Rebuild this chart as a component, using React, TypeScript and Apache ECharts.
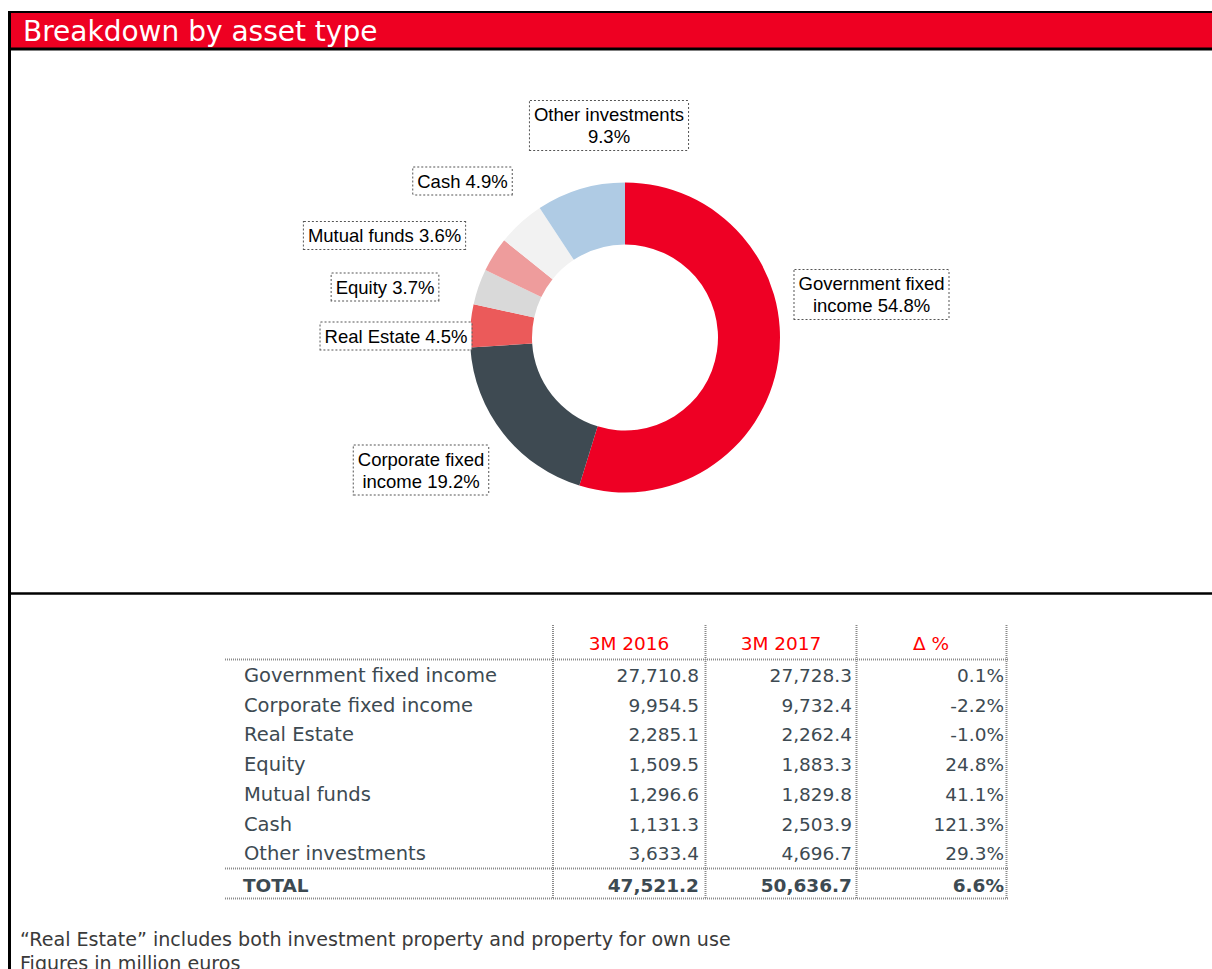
import React, { useEffect, useRef } from 'react';
import * as echarts from 'echarts';

const title = 'Breakdown by asset type';
const categories = ['Government fixed income', 'Corporate fixed income', 'Real Estate', 'Equity', 'Mutual funds', 'Cash', 'Other investments'];
const pieLabelPrefixes = ['Government fixed\nincome ', 'Corporate fixed\nincome ', 'Real Estate ', 'Equity ', 'Mutual funds ', 'Cash ', 'Other investments\n'];
const values3M2016 = [27710.8, 9954.5, 2285.1, 1509.5, 1296.6, 1131.3, 3633.4];
const values3M2017 = [27728.3, 9732.4, 2262.4, 1883.3, 1829.8, 2503.9, 4696.7];
const deltaPct = [0.1, -2.2, -1.0, 24.8, 41.1, 121.3, 29.3];
const totalLabel = 'TOTAL';
const totalValues = [47521.2, 50636.7];
const totalDeltaPct = 6.6;
const columnHeaders = ['3M 2016', '3M 2017', 'Δ %'];
const footnotes = ['\u201CReal Estate\u201D includes both investment property and property for own use', 'Figures in million euros'];

const sliceColors = ['#EE0024', '#3E4A52', '#EB5A5A', '#D9D9D9', '#EE9C9C', '#F2F2F2', '#AFCBE4'];
const labelCenters = [[871.5, 294.5], [421, 470], [396, 336], [385, 287], [384.5, 235.5], [462.5, 181], [609, 125.5]];

const RED = '#EE0022';
const TXT = '#3d4a52';
const TFONT = 'DejaVu Sans';
const TSIZE = 18.5;

const fmt = (v: number) => v.toLocaleString('en-US', { minimumFractionDigits: 1, maximumFractionDigits: 1 });

function txt(text: string, x: number, y: number, align: string, opts: any = {}) {
  return {
    type: 'text',
    x,
    y,
    silent: true,
    style: {
      text,
      fill: opts.fill || TXT,
      fontFamily: opts.fontFamily || TFONT,
      fontSize: opts.fontSize || TSIZE,
      fontWeight: opts.fontWeight || 'normal',
      align,
      verticalAlign: 'middle',
      textAlign: align,
      textVerticalAlign: 'middle',
    },
  };
}

function dline(x1: number, y1: number, x2: number, y2: number) {
  return {
    type: 'line',
    silent: true,
    shape: { x1, y1, x2, y2 },
    style: { stroke: '#8a8a8a', lineWidth: 2, lineDash: [1, 1] },
  };
}

export default function App() {
  const ref = useRef<HTMLDivElement>(null);
  useEffect(() => {
    if (!ref.current) return;
    const chart = echarts.init(ref.current, null, { renderer: 'svg' });

    const graphics: any[] = [];
    // frame & header
    graphics.push({ type: 'rect', silent: true, shape: { x: 8, y: 11, width: 1204, height: 39.5 }, style: { fill: '#000' } });
    graphics.push({ type: 'rect', silent: true, shape: { x: 11, y: 13, width: 1201, height: 34.5 }, style: { fill: RED } });
    graphics.push({ type: 'rect', silent: true, shape: { x: 8, y: 11, width: 3, height: 958 }, style: { fill: '#000' } });
    graphics.push({ type: 'rect', silent: true, shape: { x: 8, y: 592.3, width: 1204, height: 2.5 }, style: { fill: '#000' } });
    graphics.push(txt(title, 23, 31, 'left', { fill: '#fff', fontSize: 28 }));

    // table
    const colRight = [699, 852, 1004];
    const colCenter = [629, 781, 931];
    const vLines = [553, 705.5, 856.5, 1006.5];
    const rowY0 = 675.5;
    const pitch = 29.7;
    vLines.forEach((x) => graphics.push(dline(x, 625, x, 899)));
    graphics.push(dline(225, 659.5, 1008, 659.5));
    graphics.push(dline(225, 868.5, 1008, 868.5));
    graphics.push(dline(225, 898.5, 1008, 898.5));
    columnHeaders.forEach((h, i) => graphics.push(txt(h, colCenter[i], 643, 'center', { fill: '#FF0000' })));
    categories.forEach((c, i) => {
      const y = rowY0 + i * pitch;
      graphics.push(txt(c, 244, y, 'left', { fontSize: 19.5 }));
      graphics.push(txt(fmt(values3M2016[i]), colRight[0], y, 'right'));
      graphics.push(txt(fmt(values3M2017[i]), colRight[1], y, 'right'));
      graphics.push(txt(deltaPct[i].toFixed(1) + '%', colRight[2], y, 'right'));
    });
    const ty = 885.5;
    graphics.push(txt(totalLabel, 243, ty, 'left', { fontWeight: 'bold' }));
    graphics.push(txt(fmt(totalValues[0]), colRight[0], ty, 'right', { fontWeight: 'bold' }));
    graphics.push(txt(fmt(totalValues[1]), colRight[1], ty, 'right', { fontWeight: 'bold' }));
    graphics.push(txt(totalDeltaPct.toFixed(1) + '%', colRight[2], ty, 'right', { fontWeight: 'bold' }));

    footnotes.forEach((f, i) => graphics.push(txt(f, 20, 939.5 + i * 23.5, 'left', { fill: '#3a3a3a', fontSize: 19.1 })));

    chart.setOption({
      animation: false,
      graphic: { elements: graphics },
      series: [
        {
          type: 'pie',
          center: [625, 337.5],
          radius: [93, 155],
          startAngle: 90,
          clockwise: true,
          silent: true,
          percentPrecision: 1,
          avoidLabelOverlap: false,
          emphasis: { disabled: true },
          itemStyle: { borderWidth: 0 },
          data: categories.map((c, i) => ({ name: c, value: values3M2017[i], itemStyle: { color: sliceColors[i] } })),
          label: {
            show: true,
            position: 'outside',
            formatter: (p: any) => pieLabelPrefixes[p.dataIndex] + p.percent.toFixed(1) + '%',
            fontFamily: 'Liberation Sans',
            fontSize: 18.5,
            lineHeight: 22,
            color: '#000',
            align: 'center',
            backgroundColor: '#fff',
            borderColor: '#555',
            borderWidth: 1,
            borderType: 'dotted',
            padding: [3, 4, 2, 4],
          },
          labelLine: { show: false },
          labelLayout: (p: any) => ({
            x: labelCenters[p.dataIndex][0],
            y: labelCenters[p.dataIndex][1],
            align: 'center',
            verticalAlign: 'middle',
          }),
        },
      ],
    });
    return () => chart.dispose();
  }, []);
  return <div ref={ref} style={{ position: 'absolute', left: 0, top: 0, width: 1212, height: 969 }} />;
}
